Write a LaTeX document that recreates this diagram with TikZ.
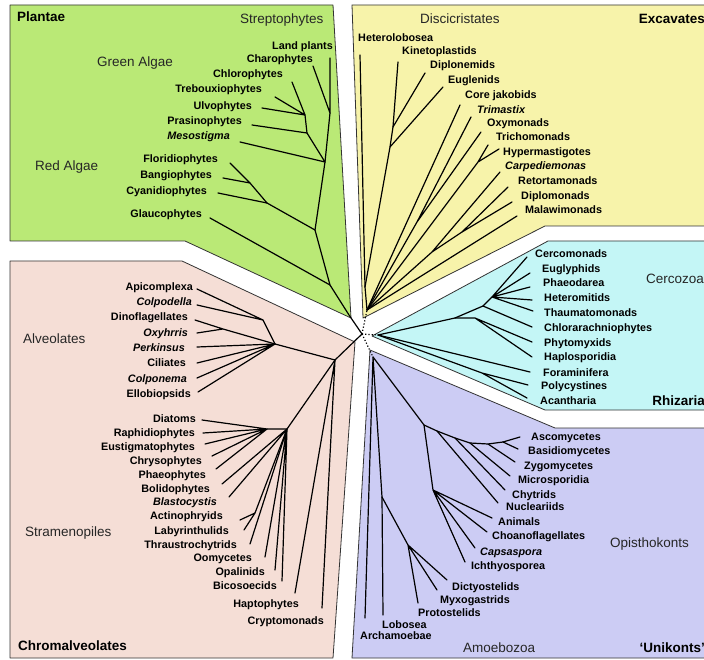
\documentclass[tikz,border=0pt]{standalone}
\usepackage{fontspec}
\setmainfont{Liberation Sans}
\usepackage{tikz}
\definecolor{plantfill}{RGB}{186,233,118}
\definecolor{excfill}{RGB}{247,243,170}
\definecolor{rhizfill}{RGB}{196,246,246}
\definecolor{chromfill}{RGB}{245,222,214}
\definecolor{unifill}{RGB}{204,204,244}

\begin{document}
\begin{tikzpicture}[x=1pt, y=-1pt,
  region/.style={draw=black!80, line width=0.8pt, line join=round},
  br/.style={line width=1.2pt, line cap=round},
  rootlink/.style={line width=1.2pt, dotted},
  taxon/.style={inner sep=0pt, text height=7.8pt, text depth=2pt, font=\fontsize{10.8}{12}\selectfont\bfseries},
  taxonit/.style={taxon, font=\fontsize{10.8}{12}\selectfont\bfseries\itshape},
  clade/.style={inner sep=0pt, text height=9.7pt, text depth=2.6pt, text=black!85, font=\fontsize{13.5}{16}\selectfont},
  supergroup/.style={clade, text=black, font=\fontsize{13.5}{16}\selectfont\bfseries}]
\useasboundingbox (0,0) rectangle (704,660);

\draw[region, fill=plantfill] (10,5) -- (333,5) -- (351,318) -- (185,241) -- (10,241) -- cycle;
\draw[region, fill=excfill] (352,5) -- (710,5) -- (710,226) -- (545,226) -- (363,318) -- cycle;
\draw[region, fill=rhizfill] (548,241) -- (710,241) -- (710,410) -- (545,410) -- (372,336) -- cycle;
\draw[region, fill=chromfill] (10,261) -- (182,261) -- (355,342) -- (333,658) -- (10,658) -- cycle;
\draw[region, fill=unifill] (370,350) -- (555,428) -- (710,428) -- (710,658) -- (352,658) -- cycle;

% Plantae
\node[supergroup, anchor=west] (plantae) at (17,18) {Plantae};
\node[clade, anchor=west] (streptophytes) at (240,20) {Streptophytes};
\node[clade, anchor=west] (greenalgae) at (97,63) {Green Algae};
\node[clade, anchor=west] (redalgae) at (35,167) {Red Algae};
\node[taxon, anchor=east] (landp) at (333,47) {Land plants};
\node[taxon, anchor=east] (charo) at (313,60) {Charophytes};
\node[taxon, anchor=east] (chlor) at (283,75) {Chlorophytes};
\node[taxon, anchor=east] (treb) at (262,90) {Trebouxiophytes};
\node[taxon, anchor=east] (ulvo) at (252,107) {Ulvophytes};
\node[taxon, anchor=east] (pras) at (242,122) {Prasinophytes};
\node[taxonit, anchor=east] (meso) at (230,137) {Mesostigma};
\node[taxon, anchor=east] (flor) at (218,160) {Floridiophytes};
\node[taxon, anchor=east] (bang) at (212,176) {Bangiophytes};
\node[taxon, anchor=east] (cyanid) at (207,192) {Cyanidiophytes};
\node[taxon, anchor=east] (glau) at (202,215) {Glaucophytes};

% Excavates
\node[supergroup, anchor=east] (excavates) at (705,20) {Excavates};
\node[clade, anchor=west] (discicristates) at (420,20) {Discicristates};
\node[taxon, anchor=west] (hetl) at (358,39) {Heterolobosea};
\node[taxon, anchor=west] (kine) at (402,52) {Kinetoplastids};
\node[taxon, anchor=west] (dipn) at (430,66) {Diplonemids};
\node[taxon, anchor=west] (eugl) at (448,81) {Euglenids};
\node[taxon, anchor=west] (jako) at (465,96) {Core jakobids};
\node[taxonit, anchor=west] (trim) at (477,111) {Trimastix};
\node[taxon, anchor=west] (oxym) at (487,124) {Oxymonads};
\node[taxon, anchor=west] (tric) at (496,138) {Trichomonads};
\node[taxon, anchor=west] (hype) at (503,153) {Hypermastigotes};
\node[taxonit, anchor=west] (carp) at (505,167) {Carpediemonas};
\node[taxon, anchor=west] (reto) at (518,182) {Retortamonads};
\node[taxon, anchor=west] (dipm) at (521,197) {Diplomonads};
\node[taxon, anchor=west] (mala) at (525,211) {Malawimonads};

% Rhizaria
\node[supergroup, anchor=east] (rhizaria) at (705,402) {Rhizaria};
\node[clade, anchor=west] (cercozoa) at (646,280) {Cercozoa};
\node[taxon, anchor=west] (cerc) at (535,255) {Cercomonads};
\node[taxon, anchor=west] (eugly) at (542,270) {Euglyphids};
\node[taxon, anchor=west] (phae) at (543,284) {Phaeodarea};
\node[taxon, anchor=west] (hetm) at (544,299) {Heteromitids};
\node[taxon, anchor=west] (thau) at (544,314) {Thaumatomonads};
\node[taxon, anchor=west] (chlr) at (544,329) {Chlorarachniophytes};
\node[taxon, anchor=west] (phyt) at (544,344) {Phytomyxids};
\node[taxon, anchor=west] (hapl) at (544,358) {Haplosporidia};
\node[taxon, anchor=west] (fora) at (543,374) {Foraminifera};
\node[taxon, anchor=west] (poly) at (541,387) {Polycystines};
\node[taxon, anchor=west] (acan) at (540,402) {Acantharia};

% Chromalveolates
\node[supergroup, anchor=west] (chromalveolates) at (18,647) {Chromalveolates};
\node[clade, anchor=west] (alveolates) at (23,340) {Alveolates};
\node[clade, anchor=west] (stramenopiles) at (25,533) {Stramenopiles};
\node[taxon, anchor=east] (apic) at (193,288) {Apicomplexa};
\node[taxonit, anchor=east] (colp) at (192,303) {Colpodella};
\node[taxon, anchor=east] (dino) at (188,318) {Dinoflagellates};
\node[taxonit, anchor=east] (oxyh) at (188,334) {Oxyhrris};
\node[taxonit, anchor=east] (perk) at (185,349) {Perkinsus};
\node[taxon, anchor=east] (cili) at (186,364) {Ciliates};
\node[taxonit, anchor=east] (colpn) at (187,380) {Colponema};
\node[taxon, anchor=east] (ellb) at (191,395) {Ellobiopsids};
\node[taxon, anchor=east] (diat) at (196,420) {Diatoms};
\node[taxon, anchor=east] (raph) at (195,434) {Raphidiophytes};
\node[taxon, anchor=east] (eust) at (195,448) {Eustigmatophytes};
\node[taxon, anchor=east] (chry) at (202,462) {Chrysophytes};
\node[taxon, anchor=east] (phaeo) at (206,476) {Phaeophytes};
\node[taxon, anchor=east] (boli) at (210,490) {Bolidophytes};
\node[taxonit, anchor=east] (blas) at (217,503) {Blastocystis};
\node[taxon, anchor=east] (acti) at (223,517) {Actinophryids};
\node[taxon, anchor=east] (laby) at (229,532) {Labyrinthulids};
\node[taxon, anchor=east] (thra) at (237,546) {Thraustrochytrids};
\node[taxon, anchor=east] (oomy) at (252,559) {Oomycetes};
\node[taxon, anchor=east] (opal) at (265,573) {Opalinids};
\node[taxon, anchor=east] (bico) at (277,587) {Bicosoecids};
\node[taxon, anchor=east] (hapt) at (299,605) {Haptophytes};
\node[taxon, anchor=east] (cryp) at (324,622) {Cryptomonads};

% Unikonts
\node[supergroup, anchor=east] (unikonts) at (705,649) {`Unikonts'};
\node[clade, anchor=west] (opisthokonts) at (610,544) {Opisthokonts};
\node[clade, anchor=west] (amoebozoa) at (463,649) {Amoebozoa};
\node[taxon, anchor=west] (asco) at (531,438) {Ascomycetes};
\node[taxon, anchor=west] (basi) at (528,452) {Basidiomycetes};
\node[taxon, anchor=west] (zygo) at (524,467) {Zygomycetes};
\node[taxon, anchor=west] (micr) at (518,481) {Microsporidia};
\node[taxon, anchor=west] (chyt) at (512,496) {Chytrids};
\node[taxon, anchor=west] (nucl) at (506,508) {Nucleariids};
\node[taxon, anchor=west] (anim) at (498,523) {Animals};
\node[taxon, anchor=west] (choa) at (492,537) {Choanoflagellates};
\node[taxonit, anchor=west] (caps) at (480,553) {Capsaspora};
\node[taxon, anchor=west] (ichth) at (471,567) {Ichthyosporea};
\node[taxon, anchor=west] (dict) at (452,588) {Dictyostelids};
\node[taxon, anchor=west] (myxo) at (440,601) {Myxogastrids};
\node[taxon, anchor=west] (prot) at (418,614) {Protostelids};
\node[taxon, anchor=west] (lobo) at (382,626) {Lobosea};
\node[taxon, anchor=west] (arch) at (360,637) {Archamoebae};

% branch points
\coordinate (root) at (362,334);
\coordinate (pl-strep) at (330,113);
\coordinate (pl-chl) at (305,115);
\coordinate (pl-chl0) at (307,133);
\coordinate (pl-grn) at (325,162);
\coordinate (pl-rd2) at (250,183);
\coordinate (pl-rd1) at (267,203);
\coordinate (pl-arc) at (315,230);
\coordinate (pl-glc) at (330,285);
\coordinate (pl-root) at (349,315);
\coordinate (ex-root) at (367,310);
\coordinate (ex-disc) at (365,287);
\coordinate (ex-eug2) at (390,147);
\coordinate (ex-eug1) at (393,127);
\coordinate (ex-pre) at (417,222);
\coordinate (ex-para) at (478,162);
\coordinate (ex-forn) at (432,252);
\coordinate (ex-dipl) at (462,232);
\coordinate (rh-root) at (378,335);
\coordinate (rh-cerc0) at (455,318);
\coordinate (rh-phyt) at (475,318);
\coordinate (rh-cerc1) at (483,306);
\coordinate (rh-fan) at (492,297);
\coordinate (rh-rad) at (482,373);
\coordinate (ch-root) at (335,360);
\coordinate (ch-alv) at (275,344);
\coordinate (ch-api) at (263,320);
\coordinate (ch-dino) at (223,329);
\coordinate (ch-str) at (287,429);
\coordinate (ch-str1) at (267,429);
\coordinate (ch-lab) at (255,513);
\coordinate (un-root) at (373,357);
\coordinate (un-opi) at (424,425);
\coordinate (un-nuc) at (437,431);
\coordinate (un-fun) at (455,438);
\coordinate (un-fun1) at (470,443);
\coordinate (un-fun2) at (488,444);
\coordinate (un-dik) at (503,442);
\coordinate (un-hol) at (433,490);
\coordinate (un-amo) at (382,497);
\coordinate (un-myc) at (408,545);

% Plantae branches
\draw[br] (root) -- (pl-root) -- (pl-glc) -- (pl-arc) -- (pl-grn) -- (pl-strep);
\draw[br] (pl-glc) -- ([shift={(8,3)}]glau.east);
\draw[br] (pl-arc) -- (pl-rd1) -- (pl-rd2);
\draw[br] (pl-rd1) -- ([shift={(11,1)}]cyanid.east);
\draw[br] (pl-rd2) -- ([shift={(12,3)}]flor.east) (pl-rd2) -- ([shift={(11,2)}]bang.east);
\draw[br] (pl-grn) -- ([shift={(10,5)}]meso.east) (pl-grn) -- (pl-chl0) -- (pl-chl);
\draw[br] (pl-chl0) -- ([shift={(10,3)}]pras.east);
\draw[br] (pl-chl) -- ([shift={(9,7)}]chlor.east) (pl-chl) -- ([shift={(13,7)}]treb.east) (pl-chl) -- ([shift={(10,1)}]ulvo.east);
\draw[br] (pl-strep) -- ([shift={(-3,11)}]landp.east) (pl-strep) -- ([shift={(0,6)}]charo.east);

% Excavate branches
\draw[rootlink] (root) -- (ex-root);
\draw[br] (ex-root) -- (ex-disc) -- ([shift={(2,16)}]hetl.west);
\draw[br] (ex-disc) -- (ex-eug2) -- (ex-eug1) -- ([shift={(-4,10)}]kine.west);
\draw[br] (ex-eug2) -- ([shift={(-5,6)}]eugl.west) (ex-eug1) -- ([shift={(-5,7)}]dipn.west);
\draw[br] (ex-root) -- ([shift={(-5,9)}]jako.west) (ex-root) -- ([shift={(-8,5)}]mala.west);
\draw[br] (ex-root) -- (ex-pre) -- ([shift={(-6,6)}]trim.west) (ex-pre) -- ([shift={(-6,8)}]oxym.west);
\draw[br] (ex-root) -- (ex-para) -- ([shift={(-8,7)}]tric.west) (ex-para) -- ([shift={(-4,-4)}]hype.west);
\draw[br] (ex-root) -- (ex-forn) -- ([shift={(-5,5)}]carp.west) (ex-forn) -- (ex-dipl);
\draw[br] (ex-dipl) -- ([shift={(-10,5)}]reto.west) (ex-dipl) -- ([shift={(-9,5)}]dipm.west);

% Rhizaria branches
\draw[rootlink] (root) -- (rh-root);
\draw[br] (rh-root) -- (rh-cerc0) -- (rh-cerc1) -- (rh-fan);
\draw[br] (rh-cerc0) -- (rh-phyt) -- ([shift={(-12,-2)}]phyt.west) (rh-phyt) -- ([shift={(-12,-1)}]hapl.west);
\draw[br] (rh-cerc1) -- ([shift={(-12,-2)}]chlr.west);
\draw[br] (rh-fan) -- ([shift={(-8,2)}]cerc.west) (rh-fan) -- ([shift={(-12,3)}]eugly.west) (rh-fan) -- ([shift={(-13,3)}]phae.west) (rh-fan) -- ([shift={(-12,1)}]hetm.west) (rh-fan) -- ([shift={(-11,-3)}]thau.west);
\draw[br] (rh-root) -- ([shift={(-13,-2)}]fora.west);
\draw[br] (rh-root) -- (rh-rad) -- ([shift={(-13,-2)}]poly.west) (rh-rad) -- ([shift={(-13,-4)}]acan.west);

% Chromalveolate branches
\draw[br] (root) -- (ch-root) -- (ch-alv);
\draw[br] (ch-alv) -- (ch-api) -- ([shift={(4,1)}]apic.east) (ch-api) -- ([shift={(5,2)}]colp.east);
\draw[br] (ch-alv) -- (ch-dino) -- ([shift={(7,2)}]dino.east) (ch-dino) -- ([shift={(9,-1)}]oxyh.east);
\draw[br] (ch-alv) -- ([shift={(12,-2)}]perk.east) (ch-alv) -- ([shift={(11,-1)}]cili.east) (ch-alv) -- ([shift={(10,-2)}]colpn.east) (ch-alv) -- ([shift={(7,-3)}]ellb.east);
\draw[br] (ch-root) -- (ch-str) -- (ch-str1);
\draw[br] (ch-str1) -- ([shift={(6,0)}]diat.east) (ch-str1) -- ([shift={(8,-1)}]raph.east) (ch-str1) -- ([shift={(10,-4)}]eust.east) (ch-str1) -- ([shift={(10,-6)}]chry.east) (ch-str1) -- ([shift={(10,-7)}]phaeo.east);
\draw[br] (ch-str) -- ([shift={(12,-6)}]boli.east) (ch-str) -- ([shift={(12,-6)}]blas.east) (ch-str) -- (ch-lab);
\draw[br] (ch-lab) -- ([shift={(17,3)}]acti.east) (ch-lab) -- ([shift={(15,-2)}]laby.east);
\draw[br] (ch-str) -- ([shift={(13,-2)}]thra.east) (ch-str) -- ([shift={(13,-2)}]oomy.east) (ch-str) -- ([shift={(10,-3)}]opal.east) (ch-str) -- ([shift={(5,-6)}]bico.east);
\draw[br] (ch-root) -- ([shift={(-4,-12)}]hapt.east) (ch-root) -- ([shift={(-2,-14)}]cryp.east);

% Unikont branches
\draw[rootlink] (root) -- (un-root);
\draw[br] (un-root) -- (un-opi) -- (un-nuc) -- (un-fun) -- (un-fun1) -- (un-fun2) -- (un-dik);
\draw[br] (un-nuc) -- ([shift={(-8,-5)}]nucl.west) (un-fun) -- ([shift={(-7,-6)}]chyt.west) (un-fun1) -- ([shift={(-8,-5)}]micr.west) (un-fun2) -- ([shift={(-9,-5)}]zygo.west);
\draw[br] (un-dik) -- ([shift={(-11,-1)}]asco.west) (un-dik) -- ([shift={(-10,-3)}]basi.west);
\draw[br] (un-opi) -- (un-hol) -- ([shift={(-6,-5)}]anim.west) (un-hol) -- ([shift={(-5,-5)}]choa.west) (un-hol) -- ([shift={(-5,-5)}]caps.west) (un-hol) -- ([shift={(-6,-5)}]ichth.west);
\draw[br] (un-root) -- ([shift={(5,-19)}]arch.west) (un-root) -- (un-amo) -- ([shift={(1,-11)}]lobo.west);
\draw[br] (un-amo) -- (un-myc) -- ([shift={(0,-11)}]prot.west) (un-myc) -- ([shift={(-3,-11)}]myxo.west) (un-myc) -- ([shift={(-5,-8)}]dict.west);
\end{tikzpicture}
\end{document}
